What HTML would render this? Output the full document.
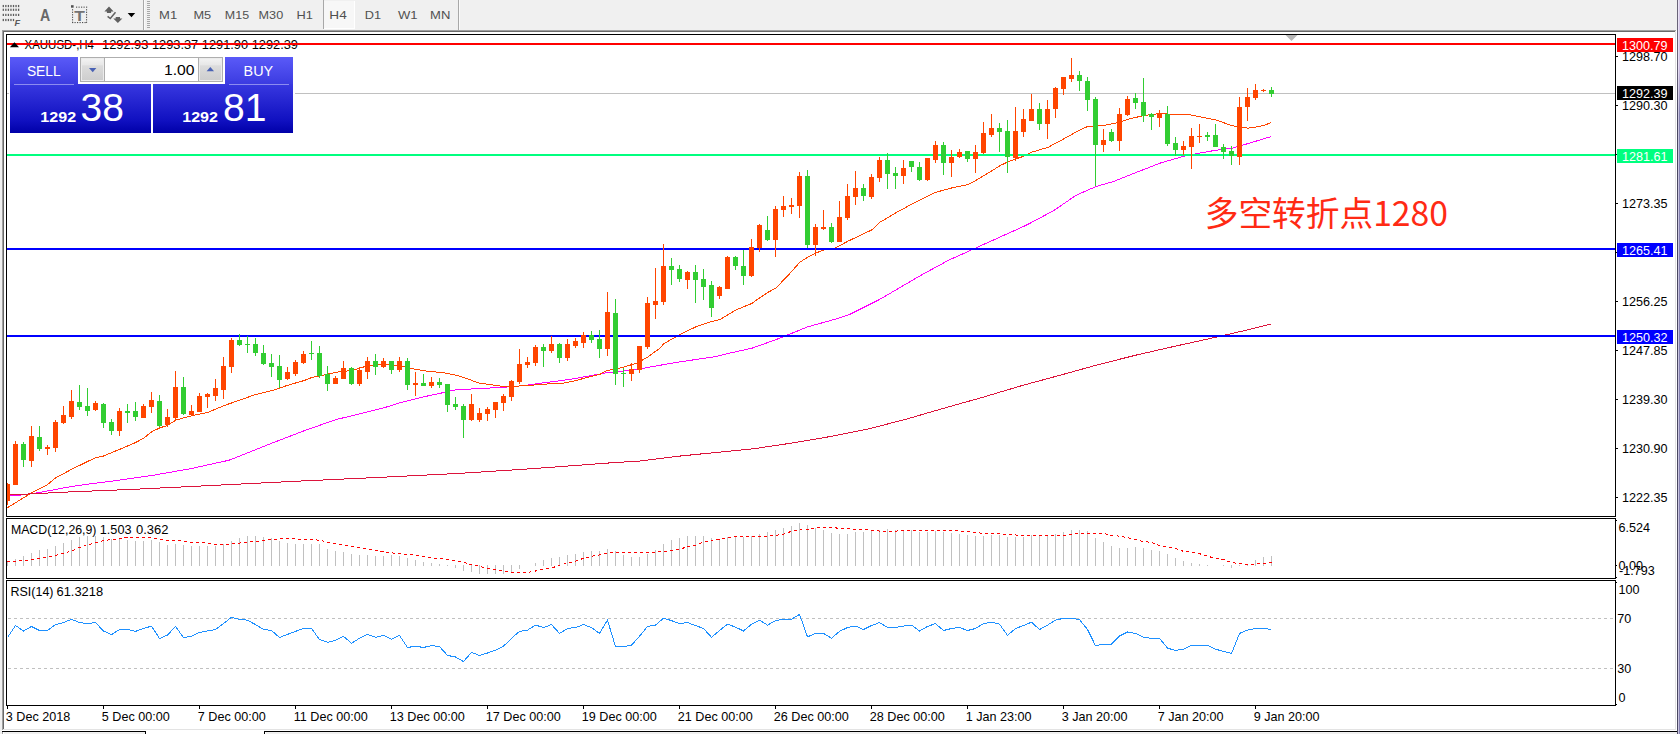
<!DOCTYPE html>
<html lang="zh"><head><meta charset="utf-8"><title>XAUUSD H4</title>
<style>
html,body{margin:0;padding:0;background:#f0f0f0;}
body{width:1680px;height:734px;overflow:hidden;position:relative;}
svg{position:absolute;left:0;top:0;display:block;}
text{font-family:"Liberation Sans","Noto Sans CJK SC",sans-serif;}
.ax{font-size:12.6px;fill:#000;}
.tf{font-size:11.4px;fill:#505050;}
.cj{font-family:"Noto Sans CJK SC","Liberation Sans",sans-serif;}
</style></head><body>
<svg width="1680" height="734" viewBox="0 0 1680 734">
<defs>
<linearGradient id="gb1" x1="0" y1="0" x2="0" y2="1"><stop offset="0" stop-color="#5a5af8"/><stop offset="1" stop-color="#3a3ae0"/></linearGradient>
<linearGradient id="gb2" x1="0" y1="0" x2="0" y2="1"><stop offset="0" stop-color="#3838e0"/><stop offset="0.75" stop-color="#1010c0"/><stop offset="1" stop-color="#0000a8"/></linearGradient>
<linearGradient id="gsp" x1="0" y1="0" x2="0" y2="1"><stop offset="0" stop-color="#f2f2f2"/><stop offset="0.27" stop-color="#e8e8e8"/><stop offset="0.33" stop-color="#dcdcdc"/><stop offset="1" stop-color="#cecece"/></linearGradient>
<linearGradient id="gv1" gradientUnits="userSpaceOnUse" x1="0" y1="0" x2="0" y2="734"><stop offset="0" stop-color="#ece6f8"/><stop offset="0.09" stop-color="#e6def4"/><stop offset="0.155" stop-color="#c8c4e0"/><stop offset="1" stop-color="#c8c4e0"/></linearGradient>
<linearGradient id="gv2" gradientUnits="userSpaceOnUse" x1="0" y1="0" x2="0" y2="734"><stop offset="0" stop-color="#d8cae8"/><stop offset="0.09" stop-color="#d0c0e4"/><stop offset="0.155" stop-color="#8682b2"/><stop offset="1" stop-color="#8682b2"/></linearGradient>
<linearGradient id="gv0" gradientUnits="userSpaceOnUse" x1="0" y1="0" x2="0" y2="734"><stop offset="0" stop-color="#6a6478"/><stop offset="0.09" stop-color="#666076"/><stop offset="0.155" stop-color="#4a4860"/><stop offset="1" stop-color="#4a4860"/></linearGradient>
</defs>
<g shape-rendering="crispEdges">
<rect x="0" y="0" width="1680" height="734" fill="#f0f0f0"/>
<rect x="2" y="30" width="1675" height="701" fill="#a0a0a0"/>
<rect x="3" y="31" width="1674" height="700" fill="#696969"/>
<rect x="4" y="32" width="1673" height="699" fill="#ffffff"/>
<rect x="4" y="729" width="1672" height="1" fill="#e3e3e3"/>
<rect x="1675" y="31" width="1" height="699" fill="#e3e3e3"/>
<rect x="1676" y="30" width="1" height="701" fill="#ffffff"/>
<rect x="2" y="730" width="1675" height="1" fill="#ffffff"/>
<rect x="3" y="729" width="1" height="1" fill="#e3e3e3"/>
<rect x="1677" y="0" width="1" height="734" fill="url(#gv0)"/>
<rect x="1678" y="0" width="1" height="734" fill="url(#gv1)"/>
<rect x="1679" y="0" width="1" height="734" fill="url(#gv2)"/>
<rect x="0" y="731" width="1677" height="3" fill="#f0f0f0"/>
<rect x="2" y="731" width="144" height="1" fill="#000"/>
<rect x="145" y="731" width="1" height="3" fill="#000"/>
<rect x="146" y="731" width="118" height="3" fill="#fff"/>
<rect x="264" y="731" width="1" height="3" fill="#000"/>
<rect x="264" y="731" width="1413" height="1" fill="#000"/>
<rect x="2" y="732" width="1" height="2" fill="#a0a0a0"/>
<rect x="3" y="732" width="1" height="2" fill="#fff"/>
<rect x="265" y="732" width="1" height="2" fill="#fff"/>
<rect x="143" y="0" width="1" height="30" fill="#a8a8a8"/>
<rect x="144" y="0" width="1" height="30" fill="#fafafa"/>
<rect x="147" y="1" width="3" height="1" fill="#a8a8a8"/>
<rect x="147" y="3" width="3" height="1" fill="#a8a8a8"/>
<rect x="147" y="5" width="3" height="1" fill="#a8a8a8"/>
<rect x="147" y="7" width="3" height="1" fill="#a8a8a8"/>
<rect x="147" y="9" width="3" height="1" fill="#a8a8a8"/>
<rect x="147" y="11" width="3" height="1" fill="#a8a8a8"/>
<rect x="147" y="13" width="3" height="1" fill="#a8a8a8"/>
<rect x="147" y="15" width="3" height="1" fill="#a8a8a8"/>
<rect x="147" y="17" width="3" height="1" fill="#a8a8a8"/>
<rect x="147" y="19" width="3" height="1" fill="#a8a8a8"/>
<rect x="147" y="21" width="3" height="1" fill="#a8a8a8"/>
<rect x="147" y="23" width="3" height="1" fill="#a8a8a8"/>
<rect x="147" y="25" width="3" height="1" fill="#a8a8a8"/>
<rect x="147" y="27" width="3" height="1" fill="#a8a8a8"/>
<rect x="323" y="0" width="1" height="29" fill="#a8a8a8"/>
<rect x="324" y="1" width="30" height="28" fill="#f7f7f7"/>
<rect x="354" y="1" width="1" height="28" fill="#ffffff"/>
<rect x="324" y="28" width="31" height="1" fill="#ffffff"/>
<rect x="458" y="0" width="1" height="30" fill="#a8a8a8"/>
<rect x="459" y="0" width="1" height="30" fill="#fafafa"/>
</g>
<g shape-rendering="crispEdges" stroke-linejoin="round">
<polyline points="7.5,495.9 19.5,495.2 27.5,494.2 38.5,492.6 63.5,488 76.5,485.7 95.5,483.2 114.5,480.8 127.5,479 152.5,475.4 170.5,472.2 191,468.6 229.1,460.2 267.2,445 305.3,430.3 336,419.6 352,415.7 367.9,411.7 384,407.8 400.1,402.8 415.9,398.7 431.8,395 447.9,391.7 452,390.2 464,389.4 479.9,388.5 495.9,387.7 511.9,386.7 527.9,385.1 543.9,382.7 559.9,380.8 575.9,378.4 592.1,375.4 608,372.5 624,370.9 640,369.2 650.5,366.9 678.5,362.1 716.7,356.4 722,354.9 752,348.2 776.1,339.6 792.1,333.2 808.1,326.7 838.6,318.3 850.5,314 878.6,300 890.7,293 920.7,275.4 948.3,260.4 975.9,247.9 1001,236.6 1026.1,225.3 1053.6,210.7 1076.2,195.2 1096.3,186.4 1113.8,181.4 1136.4,172.4 1161.5,162.6 1184.3,156.2 1200.1,153 1216.1,150.2 1232.2,148.2 1248.2,143.5 1264.2,138.7 1270.9,136.6" fill="none" stroke="#ff00ff" stroke-width="1" />
<polyline points="6.5,508.3 7.5,507.6 31.5,493 47.5,484.6 55.5,478 71.5,469.4 87.5,461.5 95.5,457.8 103.5,456 119.5,449.4 135.5,442.6 143.5,438.3 151.5,431.9 159.5,428 167.5,425.4 176,420 192,415.7 207.9,412.4 224,405.6 240.1,400 255.9,394.4 271.8,390.7 287.9,385.2 304,380.6 312,377.4 320.5,375.9 336,372.2 352,370.4 367.9,365.7 384,364.3 400.1,365.8 410.9,368.4 428.7,371.4 443.4,372.7 458.1,375.7 469.1,379.4 478.9,383.1 492.4,384.9 500.5,386.1 514.1,386.3 531.8,385.2 546.8,384 563.2,383.1 574.1,381.1 586.3,377.7 600,374.3 606.8,370.6 613.6,369.5 623.8,367.1 636.7,363.1 647.6,357.2 660.5,347.7 664,343.5 680.1,334.5 696.1,326.7 711.9,321.5 719.9,319.5 736,309.9 752,303.4 756.5,300 768.1,292.3 776,287.9 788,275.5 800,262.1 808.1,256.9 816.1,252.9 824.1,250 835.7,247.8 848.1,241.1 864.2,233.5 872.2,229.7 880.2,222 883.9,220 896.1,212.6 912.1,204 928.1,195.8 936.1,192.2 952.2,187.8 968.2,184.6 976.2,180.2 992.3,170.6 1000.3,165.5 1008.3,161.7 1016.3,158.8 1024.3,156 1032.3,152 1048.1,147.3 1064.1,138.7 1080.1,129.8 1088.1,126.3 1104.2,125.4 1120.2,122.1 1128.2,119.1 1144.2,115.5 1160.3,113.5 1170.5,114.3 1186.8,114.3 1200.1,116.8 1216.1,120 1232.2,125.7 1240.2,126.9 1248.2,128.2 1256.2,126.9 1264.2,125.3 1270.9,122.7" fill="none" stroke="#ff4500" stroke-width="1" />
<polyline points="7.5,495 18.5,494.5 38.5,493.5 76.5,491.6 127.5,489.6 152.5,488.4 229.1,484.6 305.3,480.8 381.5,477.3 457.5,473.5 533.5,468.6 610,462.9 640.5,461 678.6,456.2 716.7,452.4 754.8,448.6 792.9,442.9 831,436.4 869.1,428.8 907.2,418.9 945.3,407.8 983.4,397.1 1021.5,385.7 1059.5,375.4 1097.6,364.8 1135.7,355.2 1173.8,346.5 1211.9,338.1 1250,329.3 1270.9,324" fill="none" stroke="#dc143c" stroke-width="1" />
</g>
<text x="24.5" y="49" class="ax" textLength="69.5" lengthAdjust="spacingAndGlyphs">XAUUSD-,H4</text>
<text x="102" y="49" class="ax" textLength="196" lengthAdjust="spacingAndGlyphs">1292.93 1293.37 1291.90 1292.39</text>
<g shape-rendering="crispEdges">
<rect x="7" y="43" width="1608" height="2" fill="#ff0000"/>
<rect x="7" y="93" width="1608" height="1" fill="#c0c0c0"/>
<rect x="7" y="154" width="1608" height="2" fill="#00ff7f"/>
<rect x="7" y="248" width="1608" height="2" fill="#0000ff"/>
<rect x="7" y="335" width="1608" height="2" fill="#0000ff"/>
<rect x="7" y="483" width="1" height="22" fill="#ff4500"/>
<rect x="7" y="484" width="3" height="17" fill="#ff4500"/>
<rect x="15" y="441" width="1" height="44" fill="#ff4500"/>
<rect x="13" y="444" width="5" height="41" fill="#ff4500"/>
<rect x="23" y="442" width="1" height="25" fill="#32cd32"/>
<rect x="21" y="444" width="5" height="16" fill="#32cd32"/>
<rect x="31" y="426" width="1" height="41" fill="#ff4500"/>
<rect x="29" y="436" width="5" height="25" fill="#ff4500"/>
<rect x="39" y="426" width="1" height="25" fill="#32cd32"/>
<rect x="37" y="437" width="5" height="12" fill="#32cd32"/>
<rect x="47" y="445" width="1" height="10" fill="#ff4500"/>
<rect x="45" y="447" width="5" height="2" fill="#ff4500"/>
<rect x="55" y="420" width="1" height="32" fill="#ff4500"/>
<rect x="53" y="422" width="5" height="26" fill="#ff4500"/>
<rect x="63" y="406" width="1" height="18" fill="#ff4500"/>
<rect x="61" y="415" width="5" height="8" fill="#ff4500"/>
<rect x="71" y="390" width="1" height="29" fill="#ff4500"/>
<rect x="69" y="401" width="5" height="16" fill="#ff4500"/>
<rect x="79" y="385" width="1" height="25" fill="#32cd32"/>
<rect x="77" y="402" width="5" height="5" fill="#32cd32"/>
<rect x="87" y="388" width="1" height="28" fill="#32cd32"/>
<rect x="85" y="406" width="5" height="5" fill="#32cd32"/>
<rect x="95" y="401" width="1" height="10" fill="#ff4500"/>
<rect x="93" y="403" width="5" height="7" fill="#ff4500"/>
<rect x="103" y="403" width="1" height="25" fill="#32cd32"/>
<rect x="101" y="404" width="5" height="19" fill="#32cd32"/>
<rect x="111" y="419" width="1" height="16" fill="#32cd32"/>
<rect x="109" y="422" width="5" height="9" fill="#32cd32"/>
<rect x="119" y="408" width="1" height="28" fill="#ff4500"/>
<rect x="117" y="411" width="5" height="20" fill="#ff4500"/>
<rect x="127" y="404" width="1" height="19" fill="#32cd32"/>
<rect x="125" y="411" width="5" height="2" fill="#32cd32"/>
<rect x="135" y="402" width="1" height="19" fill="#32cd32"/>
<rect x="133" y="411" width="5" height="6" fill="#32cd32"/>
<rect x="143" y="404" width="1" height="14" fill="#ff4500"/>
<rect x="141" y="406" width="5" height="12" fill="#ff4500"/>
<rect x="151" y="392" width="1" height="21" fill="#ff4500"/>
<rect x="149" y="400" width="5" height="7" fill="#ff4500"/>
<rect x="159" y="395" width="1" height="32" fill="#32cd32"/>
<rect x="157" y="401" width="5" height="25" fill="#32cd32"/>
<rect x="167" y="409" width="1" height="18" fill="#ff4500"/>
<rect x="165" y="417" width="5" height="8" fill="#ff4500"/>
<rect x="175" y="371" width="1" height="50" fill="#ff4500"/>
<rect x="173" y="387" width="5" height="31" fill="#ff4500"/>
<rect x="183" y="377" width="1" height="38" fill="#32cd32"/>
<rect x="181" y="387" width="5" height="27" fill="#32cd32"/>
<rect x="191" y="405" width="1" height="11" fill="#ff4500"/>
<rect x="189" y="411" width="5" height="4" fill="#ff4500"/>
<rect x="199" y="393" width="1" height="19" fill="#ff4500"/>
<rect x="197" y="396" width="5" height="16" fill="#ff4500"/>
<rect x="207" y="393" width="1" height="15" fill="#ff4500"/>
<rect x="205" y="394" width="5" height="3" fill="#ff4500"/>
<rect x="215" y="379" width="1" height="22" fill="#ff4500"/>
<rect x="213" y="388" width="5" height="8" fill="#ff4500"/>
<rect x="223" y="357" width="1" height="42" fill="#ff4500"/>
<rect x="221" y="366" width="5" height="24" fill="#ff4500"/>
<rect x="231" y="338" width="1" height="35" fill="#ff4500"/>
<rect x="229" y="340" width="5" height="27" fill="#ff4500"/>
<rect x="239" y="334" width="1" height="12" fill="#32cd32"/>
<rect x="237" y="340" width="5" height="5" fill="#32cd32"/>
<rect x="247" y="336" width="1" height="17" fill="#32cd32"/>
<rect x="245" y="344" width="5" height="1" fill="#32cd32"/>
<rect x="255" y="338" width="1" height="18" fill="#32cd32"/>
<rect x="253" y="344" width="5" height="9" fill="#32cd32"/>
<rect x="263" y="345" width="1" height="20" fill="#32cd32"/>
<rect x="261" y="353" width="5" height="11" fill="#32cd32"/>
<rect x="271" y="354" width="1" height="23" fill="#32cd32"/>
<rect x="269" y="363" width="5" height="4" fill="#32cd32"/>
<rect x="279" y="355" width="1" height="33" fill="#32cd32"/>
<rect x="277" y="366" width="5" height="14" fill="#32cd32"/>
<rect x="287" y="367" width="1" height="13" fill="#ff4500"/>
<rect x="285" y="372" width="5" height="7" fill="#ff4500"/>
<rect x="295" y="360" width="1" height="16" fill="#ff4500"/>
<rect x="293" y="362" width="5" height="12" fill="#ff4500"/>
<rect x="303" y="351" width="1" height="13" fill="#ff4500"/>
<rect x="301" y="354" width="5" height="9" fill="#ff4500"/>
<rect x="311" y="341" width="1" height="19" fill="#32cd32"/>
<rect x="309" y="353" width="5" height="1" fill="#32cd32"/>
<rect x="319" y="346" width="1" height="32" fill="#32cd32"/>
<rect x="317" y="353" width="5" height="23" fill="#32cd32"/>
<rect x="327" y="366" width="1" height="25" fill="#32cd32"/>
<rect x="325" y="374" width="5" height="10" fill="#32cd32"/>
<rect x="335" y="376" width="1" height="8" fill="#ff4500"/>
<rect x="333" y="378" width="5" height="6" fill="#ff4500"/>
<rect x="343" y="361" width="1" height="18" fill="#ff4500"/>
<rect x="341" y="368" width="5" height="11" fill="#ff4500"/>
<rect x="351" y="367" width="1" height="18" fill="#32cd32"/>
<rect x="349" y="368" width="5" height="16" fill="#32cd32"/>
<rect x="359" y="367" width="1" height="19" fill="#ff4500"/>
<rect x="357" y="370" width="5" height="14" fill="#ff4500"/>
<rect x="367" y="357" width="1" height="22" fill="#ff4500"/>
<rect x="365" y="361" width="5" height="11" fill="#ff4500"/>
<rect x="375" y="354" width="1" height="21" fill="#32cd32"/>
<rect x="373" y="361" width="5" height="6" fill="#32cd32"/>
<rect x="383" y="358" width="1" height="10" fill="#ff4500"/>
<rect x="381" y="361" width="5" height="6" fill="#ff4500"/>
<rect x="391" y="361" width="1" height="13" fill="#32cd32"/>
<rect x="389" y="361" width="5" height="9" fill="#32cd32"/>
<rect x="399" y="357" width="1" height="15" fill="#ff4500"/>
<rect x="397" y="361" width="5" height="9" fill="#ff4500"/>
<rect x="407" y="358" width="1" height="32" fill="#32cd32"/>
<rect x="405" y="361" width="5" height="24" fill="#32cd32"/>
<rect x="415" y="372" width="1" height="24" fill="#ff4500"/>
<rect x="413" y="383" width="5" height="2" fill="#ff4500"/>
<rect x="423" y="374" width="1" height="12" fill="#32cd32"/>
<rect x="421" y="383" width="5" height="3" fill="#32cd32"/>
<rect x="431" y="377" width="1" height="11" fill="#ff4500"/>
<rect x="429" y="382" width="5" height="4" fill="#ff4500"/>
<rect x="439" y="378" width="1" height="10" fill="#32cd32"/>
<rect x="437" y="382" width="5" height="3" fill="#32cd32"/>
<rect x="447" y="384" width="1" height="28" fill="#32cd32"/>
<rect x="445" y="384" width="5" height="21" fill="#32cd32"/>
<rect x="455" y="397" width="1" height="13" fill="#32cd32"/>
<rect x="453" y="404" width="5" height="3" fill="#32cd32"/>
<rect x="463" y="404" width="1" height="34" fill="#32cd32"/>
<rect x="461" y="406" width="5" height="14" fill="#32cd32"/>
<rect x="471" y="394" width="1" height="27" fill="#ff4500"/>
<rect x="469" y="404" width="5" height="16" fill="#ff4500"/>
<rect x="479" y="408" width="1" height="14" fill="#ff4500"/>
<rect x="477" y="413" width="5" height="7" fill="#ff4500"/>
<rect x="487" y="407" width="1" height="14" fill="#ff4500"/>
<rect x="485" y="409" width="5" height="5" fill="#ff4500"/>
<rect x="495" y="402" width="1" height="16" fill="#ff4500"/>
<rect x="493" y="402" width="5" height="8" fill="#ff4500"/>
<rect x="503" y="394" width="1" height="17" fill="#ff4500"/>
<rect x="501" y="396" width="5" height="7" fill="#ff4500"/>
<rect x="511" y="380" width="1" height="21" fill="#ff4500"/>
<rect x="509" y="381" width="5" height="16" fill="#ff4500"/>
<rect x="519" y="349" width="1" height="35" fill="#ff4500"/>
<rect x="517" y="364" width="5" height="18" fill="#ff4500"/>
<rect x="527" y="357" width="1" height="11" fill="#ff4500"/>
<rect x="525" y="362" width="5" height="3" fill="#ff4500"/>
<rect x="535" y="345" width="1" height="21" fill="#ff4500"/>
<rect x="533" y="347" width="5" height="16" fill="#ff4500"/>
<rect x="543" y="344" width="1" height="23" fill="#32cd32"/>
<rect x="541" y="347" width="5" height="4" fill="#32cd32"/>
<rect x="551" y="336" width="1" height="17" fill="#ff4500"/>
<rect x="549" y="344" width="5" height="7" fill="#ff4500"/>
<rect x="559" y="343" width="1" height="20" fill="#32cd32"/>
<rect x="557" y="344" width="5" height="14" fill="#32cd32"/>
<rect x="567" y="339" width="1" height="22" fill="#ff4500"/>
<rect x="565" y="344" width="5" height="14" fill="#ff4500"/>
<rect x="575" y="338" width="1" height="10" fill="#ff4500"/>
<rect x="573" y="341" width="5" height="5" fill="#ff4500"/>
<rect x="583" y="332" width="1" height="16" fill="#ff4500"/>
<rect x="581" y="335" width="5" height="8" fill="#ff4500"/>
<rect x="591" y="331" width="1" height="12" fill="#32cd32"/>
<rect x="589" y="335" width="5" height="5" fill="#32cd32"/>
<rect x="599" y="330" width="1" height="28" fill="#32cd32"/>
<rect x="597" y="339" width="5" height="10" fill="#32cd32"/>
<rect x="607" y="292" width="1" height="64" fill="#ff4500"/>
<rect x="605" y="312" width="5" height="37" fill="#ff4500"/>
<rect x="615" y="299" width="1" height="86" fill="#32cd32"/>
<rect x="613" y="313" width="5" height="61" fill="#32cd32"/>
<rect x="623" y="368" width="1" height="19" fill="#32cd32"/>
<rect x="621" y="373" width="5" height="1" fill="#32cd32"/>
<rect x="631" y="363" width="1" height="18" fill="#ff4500"/>
<rect x="629" y="369" width="5" height="5" fill="#ff4500"/>
<rect x="639" y="346" width="1" height="27" fill="#ff4500"/>
<rect x="637" y="346" width="5" height="24" fill="#ff4500"/>
<rect x="647" y="297" width="1" height="52" fill="#ff4500"/>
<rect x="645" y="303" width="5" height="44" fill="#ff4500"/>
<rect x="655" y="268" width="1" height="51" fill="#ff4500"/>
<rect x="653" y="301" width="5" height="4" fill="#ff4500"/>
<rect x="663" y="244" width="1" height="61" fill="#ff4500"/>
<rect x="661" y="266" width="5" height="36" fill="#ff4500"/>
<rect x="671" y="258" width="1" height="27" fill="#32cd32"/>
<rect x="669" y="266" width="5" height="4" fill="#32cd32"/>
<rect x="679" y="265" width="1" height="17" fill="#32cd32"/>
<rect x="677" y="269" width="5" height="10" fill="#32cd32"/>
<rect x="687" y="271" width="1" height="18" fill="#ff4500"/>
<rect x="685" y="272" width="5" height="8" fill="#ff4500"/>
<rect x="695" y="265" width="1" height="38" fill="#32cd32"/>
<rect x="693" y="272" width="5" height="8" fill="#32cd32"/>
<rect x="703" y="269" width="1" height="31" fill="#32cd32"/>
<rect x="701" y="279" width="5" height="8" fill="#32cd32"/>
<rect x="711" y="281" width="1" height="36" fill="#32cd32"/>
<rect x="709" y="285" width="5" height="23" fill="#32cd32"/>
<rect x="719" y="286" width="1" height="13" fill="#ff4500"/>
<rect x="717" y="287" width="5" height="9" fill="#ff4500"/>
<rect x="727" y="256" width="1" height="33" fill="#ff4500"/>
<rect x="725" y="257" width="5" height="32" fill="#ff4500"/>
<rect x="735" y="256" width="1" height="14" fill="#32cd32"/>
<rect x="733" y="257" width="5" height="9" fill="#32cd32"/>
<rect x="743" y="250" width="1" height="35" fill="#32cd32"/>
<rect x="741" y="266" width="5" height="10" fill="#32cd32"/>
<rect x="751" y="239" width="1" height="38" fill="#ff4500"/>
<rect x="749" y="247" width="5" height="29" fill="#ff4500"/>
<rect x="759" y="224" width="1" height="28" fill="#ff4500"/>
<rect x="757" y="225" width="5" height="23" fill="#ff4500"/>
<rect x="767" y="216" width="1" height="25" fill="#32cd32"/>
<rect x="765" y="230" width="5" height="10" fill="#32cd32"/>
<rect x="775" y="206" width="1" height="51" fill="#ff4500"/>
<rect x="773" y="209" width="5" height="31" fill="#ff4500"/>
<rect x="783" y="196" width="1" height="21" fill="#ff4500"/>
<rect x="781" y="206" width="5" height="4" fill="#ff4500"/>
<rect x="791" y="198" width="1" height="16" fill="#ff4500"/>
<rect x="789" y="205" width="5" height="2" fill="#ff4500"/>
<rect x="799" y="172" width="1" height="46" fill="#ff4500"/>
<rect x="797" y="176" width="5" height="30" fill="#ff4500"/>
<rect x="807" y="170" width="1" height="78" fill="#32cd32"/>
<rect x="805" y="176" width="5" height="69" fill="#32cd32"/>
<rect x="815" y="224" width="1" height="32" fill="#ff4500"/>
<rect x="813" y="227" width="5" height="18" fill="#ff4500"/>
<rect x="823" y="210" width="1" height="20" fill="#ff4500"/>
<rect x="821" y="227" width="5" height="2" fill="#ff4500"/>
<rect x="831" y="223" width="1" height="20" fill="#32cd32"/>
<rect x="829" y="227" width="5" height="15" fill="#32cd32"/>
<rect x="839" y="201" width="1" height="41" fill="#ff4500"/>
<rect x="837" y="217" width="5" height="25" fill="#ff4500"/>
<rect x="847" y="184" width="1" height="36" fill="#ff4500"/>
<rect x="845" y="196" width="5" height="22" fill="#ff4500"/>
<rect x="855" y="171" width="1" height="34" fill="#ff4500"/>
<rect x="853" y="188" width="5" height="9" fill="#ff4500"/>
<rect x="863" y="184" width="1" height="17" fill="#32cd32"/>
<rect x="861" y="188" width="5" height="8" fill="#32cd32"/>
<rect x="871" y="174" width="1" height="25" fill="#ff4500"/>
<rect x="869" y="177" width="5" height="20" fill="#ff4500"/>
<rect x="879" y="157" width="1" height="25" fill="#ff4500"/>
<rect x="877" y="160" width="5" height="18" fill="#ff4500"/>
<rect x="887" y="153" width="1" height="36" fill="#32cd32"/>
<rect x="885" y="160" width="5" height="14" fill="#32cd32"/>
<rect x="895" y="167" width="1" height="22" fill="#32cd32"/>
<rect x="893" y="173" width="5" height="3" fill="#32cd32"/>
<rect x="903" y="160" width="1" height="24" fill="#ff4500"/>
<rect x="901" y="168" width="5" height="8" fill="#ff4500"/>
<rect x="911" y="161" width="1" height="11" fill="#32cd32"/>
<rect x="909" y="161" width="5" height="6" fill="#32cd32"/>
<rect x="919" y="162" width="1" height="19" fill="#32cd32"/>
<rect x="917" y="167" width="5" height="13" fill="#32cd32"/>
<rect x="927" y="158" width="1" height="23" fill="#ff4500"/>
<rect x="925" y="158" width="5" height="22" fill="#ff4500"/>
<rect x="935" y="141" width="1" height="22" fill="#ff4500"/>
<rect x="933" y="145" width="5" height="15" fill="#ff4500"/>
<rect x="943" y="142" width="1" height="33" fill="#32cd32"/>
<rect x="941" y="145" width="5" height="18" fill="#32cd32"/>
<rect x="951" y="150" width="1" height="27" fill="#ff4500"/>
<rect x="949" y="157" width="5" height="6" fill="#ff4500"/>
<rect x="959" y="149" width="1" height="9" fill="#ff4500"/>
<rect x="957" y="152" width="5" height="5" fill="#ff4500"/>
<rect x="967" y="151" width="1" height="11" fill="#32cd32"/>
<rect x="965" y="151" width="5" height="8" fill="#32cd32"/>
<rect x="975" y="145" width="1" height="28" fill="#ff4500"/>
<rect x="973" y="152" width="5" height="7" fill="#ff4500"/>
<rect x="983" y="122" width="1" height="32" fill="#ff4500"/>
<rect x="981" y="133" width="5" height="20" fill="#ff4500"/>
<rect x="991" y="114" width="1" height="23" fill="#ff4500"/>
<rect x="989" y="128" width="5" height="7" fill="#ff4500"/>
<rect x="999" y="123" width="1" height="29" fill="#32cd32"/>
<rect x="997" y="128" width="5" height="4" fill="#32cd32"/>
<rect x="1007" y="120" width="1" height="53" fill="#32cd32"/>
<rect x="1005" y="131" width="5" height="26" fill="#32cd32"/>
<rect x="1015" y="107" width="1" height="54" fill="#ff4500"/>
<rect x="1013" y="131" width="5" height="27" fill="#ff4500"/>
<rect x="1023" y="109" width="1" height="28" fill="#ff4500"/>
<rect x="1021" y="119" width="5" height="13" fill="#ff4500"/>
<rect x="1031" y="94" width="1" height="27" fill="#ff4500"/>
<rect x="1029" y="109" width="5" height="12" fill="#ff4500"/>
<rect x="1039" y="103" width="1" height="27" fill="#32cd32"/>
<rect x="1037" y="109" width="5" height="15" fill="#32cd32"/>
<rect x="1047" y="100" width="1" height="39" fill="#ff4500"/>
<rect x="1045" y="109" width="5" height="15" fill="#ff4500"/>
<rect x="1055" y="87" width="1" height="31" fill="#ff4500"/>
<rect x="1053" y="88" width="5" height="21" fill="#ff4500"/>
<rect x="1063" y="77" width="1" height="18" fill="#ff4500"/>
<rect x="1061" y="77" width="5" height="12" fill="#ff4500"/>
<rect x="1071" y="58" width="1" height="24" fill="#ff4500"/>
<rect x="1069" y="75" width="5" height="4" fill="#ff4500"/>
<rect x="1079" y="71" width="1" height="20" fill="#32cd32"/>
<rect x="1077" y="75" width="5" height="6" fill="#32cd32"/>
<rect x="1087" y="77" width="1" height="34" fill="#32cd32"/>
<rect x="1085" y="81" width="5" height="19" fill="#32cd32"/>
<rect x="1095" y="97" width="1" height="89" fill="#32cd32"/>
<rect x="1093" y="99" width="5" height="46" fill="#32cd32"/>
<rect x="1103" y="129" width="1" height="23" fill="#ff4500"/>
<rect x="1101" y="140" width="5" height="5" fill="#ff4500"/>
<rect x="1111" y="129" width="1" height="13" fill="#32cd32"/>
<rect x="1109" y="132" width="5" height="9" fill="#32cd32"/>
<rect x="1119" y="108" width="1" height="43" fill="#ff4500"/>
<rect x="1117" y="114" width="5" height="27" fill="#ff4500"/>
<rect x="1127" y="96" width="1" height="20" fill="#ff4500"/>
<rect x="1125" y="99" width="5" height="16" fill="#ff4500"/>
<rect x="1135" y="93" width="1" height="16" fill="#32cd32"/>
<rect x="1133" y="98" width="5" height="5" fill="#32cd32"/>
<rect x="1143" y="78" width="1" height="44" fill="#32cd32"/>
<rect x="1141" y="102" width="5" height="14" fill="#32cd32"/>
<rect x="1151" y="113" width="1" height="17" fill="#32cd32"/>
<rect x="1149" y="114" width="5" height="3" fill="#32cd32"/>
<rect x="1159" y="110" width="1" height="17" fill="#ff4500"/>
<rect x="1157" y="113" width="5" height="5" fill="#ff4500"/>
<rect x="1167" y="106" width="1" height="40" fill="#32cd32"/>
<rect x="1165" y="114" width="5" height="30" fill="#32cd32"/>
<rect x="1175" y="137" width="1" height="19" fill="#32cd32"/>
<rect x="1173" y="143" width="5" height="7" fill="#32cd32"/>
<rect x="1183" y="141" width="1" height="14" fill="#ff4500"/>
<rect x="1181" y="146" width="5" height="4" fill="#ff4500"/>
<rect x="1191" y="128" width="1" height="41" fill="#ff4500"/>
<rect x="1189" y="136" width="5" height="11" fill="#ff4500"/>
<rect x="1199" y="124" width="1" height="19" fill="#ff4500"/>
<rect x="1197" y="136" width="5" height="1" fill="#ff4500"/>
<rect x="1207" y="132" width="1" height="9" fill="#32cd32"/>
<rect x="1205" y="135" width="5" height="2" fill="#32cd32"/>
<rect x="1215" y="124" width="1" height="23" fill="#32cd32"/>
<rect x="1213" y="135" width="5" height="12" fill="#32cd32"/>
<rect x="1223" y="144" width="1" height="15" fill="#32cd32"/>
<rect x="1221" y="147" width="5" height="5" fill="#32cd32"/>
<rect x="1231" y="146" width="1" height="19" fill="#32cd32"/>
<rect x="1229" y="151" width="5" height="5" fill="#32cd32"/>
<rect x="1239" y="97" width="1" height="68" fill="#ff4500"/>
<rect x="1237" y="107" width="5" height="50" fill="#ff4500"/>
<rect x="1247" y="88" width="1" height="33" fill="#ff4500"/>
<rect x="1245" y="97" width="5" height="10" fill="#ff4500"/>
<rect x="1255" y="84" width="1" height="16" fill="#ff4500"/>
<rect x="1253" y="90" width="5" height="8" fill="#ff4500"/>
<rect x="1263" y="89" width="1" height="3" fill="#ff4500"/>
<rect x="1261" y="90" width="5" height="1" fill="#ff4500"/>
<rect x="1271" y="87" width="1" height="10" fill="#32cd32"/>
<rect x="1269" y="90" width="5" height="4" fill="#32cd32"/>
</g>
<g shape-rendering="crispEdges">
<rect x="7" y="562" width="1" height="4" fill="#c0c0c0"/>
<rect x="15" y="559" width="1" height="7" fill="#c0c0c0"/>
<rect x="23" y="556" width="1" height="10" fill="#c0c0c0"/>
<rect x="31" y="553" width="1" height="13" fill="#c0c0c0"/>
<rect x="39" y="550" width="1" height="16" fill="#c0c0c0"/>
<rect x="47" y="549" width="1" height="17" fill="#c0c0c0"/>
<rect x="55" y="546" width="1" height="20" fill="#c0c0c0"/>
<rect x="63" y="543" width="1" height="23" fill="#c0c0c0"/>
<rect x="71" y="540" width="1" height="26" fill="#c0c0c0"/>
<rect x="79" y="537" width="1" height="29" fill="#c0c0c0"/>
<rect x="87" y="536" width="1" height="30" fill="#c0c0c0"/>
<rect x="95" y="536" width="1" height="30" fill="#c0c0c0"/>
<rect x="103" y="537" width="1" height="29" fill="#c0c0c0"/>
<rect x="111" y="539" width="1" height="27" fill="#c0c0c0"/>
<rect x="119" y="539" width="1" height="27" fill="#c0c0c0"/>
<rect x="127" y="540" width="1" height="26" fill="#c0c0c0"/>
<rect x="135" y="541" width="1" height="25" fill="#c0c0c0"/>
<rect x="143" y="541" width="1" height="25" fill="#c0c0c0"/>
<rect x="151" y="540" width="1" height="26" fill="#c0c0c0"/>
<rect x="159" y="542" width="1" height="24" fill="#c0c0c0"/>
<rect x="167" y="545" width="1" height="21" fill="#c0c0c0"/>
<rect x="175" y="544" width="1" height="22" fill="#c0c0c0"/>
<rect x="183" y="545" width="1" height="21" fill="#c0c0c0"/>
<rect x="191" y="546" width="1" height="20" fill="#c0c0c0"/>
<rect x="199" y="546" width="1" height="20" fill="#c0c0c0"/>
<rect x="207" y="546" width="1" height="20" fill="#c0c0c0"/>
<rect x="215" y="546" width="1" height="20" fill="#c0c0c0"/>
<rect x="223" y="544" width="1" height="22" fill="#c0c0c0"/>
<rect x="231" y="541" width="1" height="25" fill="#c0c0c0"/>
<rect x="239" y="538" width="1" height="28" fill="#c0c0c0"/>
<rect x="247" y="536" width="1" height="30" fill="#c0c0c0"/>
<rect x="255" y="536" width="1" height="30" fill="#c0c0c0"/>
<rect x="263" y="537" width="1" height="29" fill="#c0c0c0"/>
<rect x="271" y="538" width="1" height="28" fill="#c0c0c0"/>
<rect x="279" y="541" width="1" height="25" fill="#c0c0c0"/>
<rect x="287" y="543" width="1" height="23" fill="#c0c0c0"/>
<rect x="295" y="544" width="1" height="22" fill="#c0c0c0"/>
<rect x="303" y="544" width="1" height="22" fill="#c0c0c0"/>
<rect x="311" y="544" width="1" height="22" fill="#c0c0c0"/>
<rect x="319" y="544" width="1" height="22" fill="#c0c0c0"/>
<rect x="327" y="549" width="1" height="17" fill="#c0c0c0"/>
<rect x="335" y="551" width="1" height="15" fill="#c0c0c0"/>
<rect x="343" y="552" width="1" height="14" fill="#c0c0c0"/>
<rect x="351" y="554" width="1" height="12" fill="#c0c0c0"/>
<rect x="359" y="555" width="1" height="11" fill="#c0c0c0"/>
<rect x="367" y="555" width="1" height="11" fill="#c0c0c0"/>
<rect x="375" y="556" width="1" height="10" fill="#c0c0c0"/>
<rect x="383" y="556" width="1" height="10" fill="#c0c0c0"/>
<rect x="391" y="555" width="1" height="11" fill="#c0c0c0"/>
<rect x="399" y="556" width="1" height="10" fill="#c0c0c0"/>
<rect x="407" y="558" width="1" height="8" fill="#c0c0c0"/>
<rect x="415" y="560" width="1" height="6" fill="#c0c0c0"/>
<rect x="423" y="562" width="1" height="4" fill="#c0c0c0"/>
<rect x="431" y="563" width="1" height="3" fill="#c0c0c0"/>
<rect x="439" y="564" width="1" height="2" fill="#c0c0c0"/>
<rect x="447" y="565" width="1" height="1" fill="#c0c0c0"/>
<rect x="455" y="565" width="1" height="3" fill="#c0c0c0"/>
<rect x="463" y="565" width="1" height="6" fill="#c0c0c0"/>
<rect x="471" y="565" width="1" height="7" fill="#c0c0c0"/>
<rect x="479" y="565" width="1" height="9" fill="#c0c0c0"/>
<rect x="487" y="565" width="1" height="9" fill="#c0c0c0"/>
<rect x="495" y="565" width="1" height="9" fill="#c0c0c0"/>
<rect x="503" y="565" width="1" height="9" fill="#c0c0c0"/>
<rect x="511" y="565" width="1" height="7" fill="#c0c0c0"/>
<rect x="519" y="565" width="1" height="4" fill="#c0c0c0"/>
<rect x="535" y="563" width="1" height="3" fill="#c0c0c0"/>
<rect x="543" y="560" width="1" height="6" fill="#c0c0c0"/>
<rect x="551" y="558" width="1" height="8" fill="#c0c0c0"/>
<rect x="559" y="557" width="1" height="9" fill="#c0c0c0"/>
<rect x="567" y="555" width="1" height="11" fill="#c0c0c0"/>
<rect x="575" y="554" width="1" height="12" fill="#c0c0c0"/>
<rect x="583" y="552" width="1" height="14" fill="#c0c0c0"/>
<rect x="591" y="551" width="1" height="15" fill="#c0c0c0"/>
<rect x="599" y="551" width="1" height="15" fill="#c0c0c0"/>
<rect x="607" y="549" width="1" height="17" fill="#c0c0c0"/>
<rect x="615" y="551" width="1" height="15" fill="#c0c0c0"/>
<rect x="623" y="555" width="1" height="11" fill="#c0c0c0"/>
<rect x="631" y="557" width="1" height="9" fill="#c0c0c0"/>
<rect x="639" y="557" width="1" height="9" fill="#c0c0c0"/>
<rect x="647" y="554" width="1" height="12" fill="#c0c0c0"/>
<rect x="655" y="550" width="1" height="16" fill="#c0c0c0"/>
<rect x="663" y="544" width="1" height="22" fill="#c0c0c0"/>
<rect x="671" y="540" width="1" height="26" fill="#c0c0c0"/>
<rect x="679" y="538" width="1" height="28" fill="#c0c0c0"/>
<rect x="687" y="536" width="1" height="30" fill="#c0c0c0"/>
<rect x="695" y="536" width="1" height="30" fill="#c0c0c0"/>
<rect x="703" y="536" width="1" height="30" fill="#c0c0c0"/>
<rect x="711" y="538" width="1" height="28" fill="#c0c0c0"/>
<rect x="719" y="539" width="1" height="27" fill="#c0c0c0"/>
<rect x="727" y="537" width="1" height="29" fill="#c0c0c0"/>
<rect x="735" y="537" width="1" height="29" fill="#c0c0c0"/>
<rect x="743" y="537" width="1" height="29" fill="#c0c0c0"/>
<rect x="751" y="536" width="1" height="30" fill="#c0c0c0"/>
<rect x="759" y="534" width="1" height="32" fill="#c0c0c0"/>
<rect x="767" y="532" width="1" height="34" fill="#c0c0c0"/>
<rect x="775" y="530" width="1" height="36" fill="#c0c0c0"/>
<rect x="783" y="528" width="1" height="38" fill="#c0c0c0"/>
<rect x="791" y="526" width="1" height="40" fill="#c0c0c0"/>
<rect x="799" y="523" width="1" height="43" fill="#c0c0c0"/>
<rect x="807" y="525" width="1" height="41" fill="#c0c0c0"/>
<rect x="815" y="528" width="1" height="38" fill="#c0c0c0"/>
<rect x="823" y="530" width="1" height="36" fill="#c0c0c0"/>
<rect x="831" y="533" width="1" height="33" fill="#c0c0c0"/>
<rect x="839" y="534" width="1" height="32" fill="#c0c0c0"/>
<rect x="847" y="534" width="1" height="32" fill="#c0c0c0"/>
<rect x="855" y="532" width="1" height="34" fill="#c0c0c0"/>
<rect x="863" y="532" width="1" height="34" fill="#c0c0c0"/>
<rect x="871" y="530" width="1" height="36" fill="#c0c0c0"/>
<rect x="879" y="530" width="1" height="36" fill="#c0c0c0"/>
<rect x="887" y="529" width="1" height="37" fill="#c0c0c0"/>
<rect x="895" y="530" width="1" height="36" fill="#c0c0c0"/>
<rect x="903" y="530" width="1" height="36" fill="#c0c0c0"/>
<rect x="911" y="530" width="1" height="36" fill="#c0c0c0"/>
<rect x="919" y="532" width="1" height="34" fill="#c0c0c0"/>
<rect x="927" y="532" width="1" height="34" fill="#c0c0c0"/>
<rect x="935" y="531" width="1" height="35" fill="#c0c0c0"/>
<rect x="943" y="532" width="1" height="34" fill="#c0c0c0"/>
<rect x="951" y="533" width="1" height="33" fill="#c0c0c0"/>
<rect x="959" y="534" width="1" height="32" fill="#c0c0c0"/>
<rect x="967" y="535" width="1" height="31" fill="#c0c0c0"/>
<rect x="975" y="536" width="1" height="30" fill="#c0c0c0"/>
<rect x="983" y="536" width="1" height="30" fill="#c0c0c0"/>
<rect x="991" y="535" width="1" height="31" fill="#c0c0c0"/>
<rect x="999" y="535" width="1" height="31" fill="#c0c0c0"/>
<rect x="1007" y="537" width="1" height="29" fill="#c0c0c0"/>
<rect x="1015" y="537" width="1" height="29" fill="#c0c0c0"/>
<rect x="1023" y="537" width="1" height="29" fill="#c0c0c0"/>
<rect x="1031" y="535" width="1" height="31" fill="#c0c0c0"/>
<rect x="1039" y="536" width="1" height="30" fill="#c0c0c0"/>
<rect x="1047" y="536" width="1" height="30" fill="#c0c0c0"/>
<rect x="1055" y="534" width="1" height="32" fill="#c0c0c0"/>
<rect x="1063" y="532" width="1" height="34" fill="#c0c0c0"/>
<rect x="1071" y="530" width="1" height="36" fill="#c0c0c0"/>
<rect x="1079" y="530" width="1" height="36" fill="#c0c0c0"/>
<rect x="1087" y="531" width="1" height="35" fill="#c0c0c0"/>
<rect x="1095" y="538" width="1" height="28" fill="#c0c0c0"/>
<rect x="1103" y="542" width="1" height="24" fill="#c0c0c0"/>
<rect x="1111" y="546" width="1" height="20" fill="#c0c0c0"/>
<rect x="1119" y="548" width="1" height="18" fill="#c0c0c0"/>
<rect x="1127" y="548" width="1" height="18" fill="#c0c0c0"/>
<rect x="1135" y="547" width="1" height="19" fill="#c0c0c0"/>
<rect x="1143" y="548" width="1" height="18" fill="#c0c0c0"/>
<rect x="1151" y="550" width="1" height="16" fill="#c0c0c0"/>
<rect x="1159" y="551" width="1" height="15" fill="#c0c0c0"/>
<rect x="1167" y="554" width="1" height="12" fill="#c0c0c0"/>
<rect x="1175" y="558" width="1" height="8" fill="#c0c0c0"/>
<rect x="1183" y="561" width="1" height="5" fill="#c0c0c0"/>
<rect x="1191" y="563" width="1" height="3" fill="#c0c0c0"/>
<rect x="1199" y="564" width="1" height="2" fill="#c0c0c0"/>
<rect x="1207" y="565" width="1" height="1" fill="#c0c0c0"/>
<rect x="1223" y="565" width="1" height="1" fill="#c0c0c0"/>
<rect x="1231" y="565" width="1" height="3" fill="#c0c0c0"/>
<rect x="1239" y="565" width="1" height="1" fill="#c0c0c0"/>
<rect x="1247" y="564" width="1" height="2" fill="#c0c0c0"/>
<rect x="1255" y="560" width="1" height="6" fill="#c0c0c0"/>
<rect x="1263" y="557" width="1" height="9" fill="#c0c0c0"/>
<rect x="1271" y="556" width="1" height="10" fill="#c0c0c0"/>
</g>
<g shape-rendering="crispEdges">
<polyline points="7.5,561.6 23.6,560.8 39.5,558.2 55.6,555.3 71.5,551 79.6,547.4 87.4,545.1 103.5,540.6 119.4,538.6 127.5,537.2 143.6,537.2 159.5,539 167.6,540.6 183.5,541.1 191.6,542.5 207.5,543.1 215.5,544.5 231.6,544.1 247.5,542.1 263.7,540.6 271.5,539.2 287.6,538.6 303.5,539.2 319.6,540.2 327.5,542.1 335.5,543.5 343.6,545.5 359.5,547.4 375.6,550.4 391.5,552.9 407.4,554.3 423.5,556.3 431.6,557.7 447.5,559.6 463.6,562.2 471.5,564.7 479.5,566.1 487.6,568.7 503.5,570.6 511.6,572.4 527.5,572.4 535.5,571 543.6,569 551.6,568.1 559.5,565.1 567.5,563.2 575.6,561.2 583.7,558.2 591.5,556.3 599.6,554.9 607.6,553.3 615.7,552.3 631.6,552.3 655.5,552.3 663.6,551.4 671.4,550.4 679.5,549 687.5,547 695.6,545.1 703.5,542.1 711.5,540.2 719.6,539.2 727.4,537.6 743.5,536.2 759.4,536.2 767.5,536.2 775.6,535.3 783.6,534.1 791.5,531.3 799.5,530.1 807.6,529.2 815.4,528.2 823.5,527.4 831.6,527.4 839.6,528.4 855.5,529.2 871.6,530.1 879.5,531.1 895.6,531.1 903.7,530.3 954.3,530.3 959.6,531.3 975.5,532.3 983.6,533.7 999.5,533.7 1007.5,534.7 1023.5,535.3 1063.5,535.3 1071.6,534.3 1079.4,533.3 1103.6,533.3 1111.5,535.3 1119.5,536.2 1127.6,537.6 1135.4,539.6 1143.5,541.5 1151.6,542.5 1159.6,545.5 1167.5,547.4 1175.5,548.4 1183.6,551.4 1191.6,552.3 1199.5,553.7 1207.5,556.3 1215.6,558.2 1223.7,559.6 1231.5,562.6 1239.6,563.5 1247.6,564.5 1255.7,564.1 1263.5,563.2 1271.6,562.6" fill="none" stroke="#ff0000" stroke-width="1" stroke-dasharray="3 3"/>
<line x1="8" y1="618.5" x2="1615" y2="618.5" stroke="#c0c0c0" stroke-width="1" stroke-dasharray="3 3"/>
<line x1="8" y1="668.5" x2="1615" y2="668.5" stroke="#c0c0c0" stroke-width="1" stroke-dasharray="3 3"/>
<polyline points="7.5,637.5 15.5,625.5 23.5,631 31.5,626.5 39.5,630.5 47.5,630.5 55.5,624.6 63.5,622.6 71.5,619.3 79.5,622.6 87.5,623.6 95.5,622.6 103.5,631 111.5,634.6 119.5,629.5 127.5,629.5 135.5,631.4 143.5,628.5 151.5,626.1 159.5,638.5 167.5,635 175.5,626.5 183.5,637.5 191.5,636.3 199.5,632.4 207.5,631 215.5,629.5 223.5,623.6 231.5,617.3 239.5,619.3 247.5,620.2 255.5,624.6 263.5,629.5 271.5,630.5 279.5,637.5 287.5,634.4 295.5,631.4 303.5,628.5 311.5,628.5 319.5,639.5 327.5,642.3 335.5,640.3 343.5,636.3 351.5,643.2 359.5,638.3 367.5,634.4 375.5,637.3 383.5,635.4 391.5,639.3 399.5,635.4 407.5,647.5 415.5,646.2 423.5,647.5 431.5,645.6 439.5,646.6 447.5,655.4 455.5,657 463.5,661.5 471.5,652.5 479.5,655.4 487.5,653 495.5,650.1 503.5,646.2 511.5,638.3 519.5,631.4 527.5,630.1 535.5,625.1 543.5,627.5 551.5,624.6 559.5,633.4 567.5,628.5 575.5,627.5 583.5,624.6 591.5,627.5 599.5,633.4 607.5,620.2 615.5,646.6 623.5,646.6 631.5,645.2 639.5,636.3 647.5,626.5 655.5,625.1 663.5,618.3 671.5,620.6 679.5,623.6 687.5,622.6 695.5,625.5 703.5,628.5 711.5,637.3 719.5,630.5 727.5,624.2 735.5,627.1 743.5,631 751.5,624.2 759.5,620.2 767.5,625.1 775.5,620.6 783.5,619.3 791.5,619.3 799.5,614.3 807.5,636.9 815.5,633.4 823.5,633.4 831.5,638.3 839.5,631.4 847.5,627.5 855.5,626.1 863.5,629.5 871.5,625.5 879.5,622.6 887.5,627.5 895.5,627.5 903.5,626.1 911.5,625.1 919.5,631 927.5,626.5 935.5,623.6 943.5,630.5 951.5,628.5 959.5,627.5 967.5,630.5 975.5,628.5 983.5,623.6 991.5,622.2 999.5,624.2 1007.5,635.4 1015.5,628.5 1023.5,625.5 1031.5,622.2 1039.5,629.5 1047.5,625.1 1055.5,620.2 1063.5,618.3 1071.5,618.3 1079.5,619.6 1087.5,629.5 1095.5,645.6 1103.5,644.2 1111.5,644.2 1119.5,636 1127.5,632 1135.5,633.4 1143.5,637.3 1151.5,638.3 1159.5,638.3 1167.5,648.1 1175.5,650.5 1183.5,649.1 1191.5,645.2 1199.5,645.2 1207.5,645.2 1215.5,649.1 1223.5,651.5 1231.5,653.4 1239.5,633.4 1247.5,630.1 1255.5,628.5 1263.5,628.5 1271.5,629.5" fill="none" stroke="#1e90ff" stroke-width="1" />
</g>
<g shape-rendering="crispEdges">
<rect x="6" y="34" width="1610" height="1" fill="#000"/>
<rect x="6" y="34" width="1" height="483" fill="#000"/>
<rect x="1615" y="34" width="1" height="483" fill="#000"/>
<rect x="6" y="518" width="1" height="61" fill="#000"/>
<rect x="1615" y="518" width="1" height="61" fill="#000"/>
<rect x="6" y="580" width="1" height="126" fill="#000"/>
<rect x="1615" y="580" width="1" height="126" fill="#000"/>
<rect x="6" y="516" width="1610" height="1" fill="#000"/>
<rect x="6" y="518" width="1610" height="1" fill="#000"/>
<rect x="6" y="578" width="1610" height="1" fill="#000"/>
<rect x="6" y="580" width="1610" height="1" fill="#000"/>
<rect x="6" y="705" width="1610" height="1" fill="#000"/>
<rect x="1616" y="56" width="2" height="1" fill="#000"/>
<rect x="1616" y="105" width="2" height="1" fill="#000"/>
<rect x="1616" y="154" width="2" height="1" fill="#000"/>
<rect x="1616" y="203" width="2" height="1" fill="#000"/>
<rect x="1616" y="252" width="2" height="1" fill="#000"/>
<rect x="1616" y="301" width="2" height="1" fill="#000"/>
<rect x="1616" y="350" width="2" height="1" fill="#000"/>
<rect x="1616" y="399" width="2" height="1" fill="#000"/>
<rect x="1616" y="448" width="2" height="1" fill="#000"/>
<rect x="1616" y="497" width="2" height="1" fill="#000"/>
<rect x="1616" y="520" width="1" height="1" fill="#000"/>
<rect x="1616" y="565" width="1" height="1" fill="#000"/>
<rect x="1616" y="577" width="1" height="1" fill="#000"/>
<rect x="1616" y="582" width="1" height="1" fill="#000"/>
<rect x="1616" y="704" width="1" height="1" fill="#000"/>
<rect x="7" y="706" width="1" height="3" fill="#000"/>
<rect x="103" y="706" width="1" height="3" fill="#000"/>
<rect x="199" y="706" width="1" height="3" fill="#000"/>
<rect x="295" y="706" width="1" height="3" fill="#000"/>
<rect x="391" y="706" width="1" height="3" fill="#000"/>
<rect x="487" y="706" width="1" height="3" fill="#000"/>
<rect x="583" y="706" width="1" height="3" fill="#000"/>
<rect x="679" y="706" width="1" height="3" fill="#000"/>
<rect x="775" y="706" width="1" height="3" fill="#000"/>
<rect x="871" y="706" width="1" height="3" fill="#000"/>
<rect x="967" y="706" width="1" height="3" fill="#000"/>
<rect x="1063" y="706" width="1" height="3" fill="#000"/>
<rect x="1159" y="706" width="1" height="3" fill="#000"/>
<rect x="1255" y="706" width="1" height="3" fill="#000"/>
<rect x="1617" y="38" width="56" height="14" fill="#ff0000"/>
<rect x="1617" y="86" width="56" height="14" fill="#000000"/>
<rect x="1617" y="149" width="56" height="14" fill="#00ff7f"/>
<rect x="1617" y="243" width="56" height="14" fill="#0000ff"/>
<rect x="1617" y="330" width="56" height="14" fill="#0000ff"/>
<polygon points="1285.5,35 1297.5,35 1291.5,41" fill="#b8b8b8" shape-rendering="auto"/>
<polygon points="9.9,47.2 19,47.2 14.45,42.2" fill="#000" shape-rendering="auto"/>
</g>
<text x="1622" y="61" class="ax">1298.70</text>
<text x="1622" y="110" class="ax">1290.30</text>
<text x="1622" y="208" class="ax">1273.35</text>
<text x="1622" y="306" class="ax">1256.25</text>
<text x="1622" y="355" class="ax">1247.85</text>
<text x="1622" y="404" class="ax">1239.30</text>
<text x="1622" y="453" class="ax">1230.90</text>
<text x="1622" y="502" class="ax">1222.35</text>
<text x="1622" y="50" class="ax" fill="#fff" style="fill:#fff">1300.79</text>
<text x="1622" y="98" class="ax" style="fill:#fff">1292.39</text>
<text x="1622" y="161" class="ax" style="fill:#fff">1281.61</text>
<text x="1622" y="255" class="ax" style="fill:#fff">1265.41</text>
<text x="1622" y="342" class="ax" style="fill:#fff">1250.32</text>
<text x="1618.5" y="532" class="ax">6.524</text>
<text x="1618.5" y="570" class="ax">0.00</text>
<text x="1619" y="575" class="ax">-1.793</text>
<text x="1618.5" y="594" class="ax">100</text>
<text x="1617.3" y="623" class="ax">70</text>
<text x="1617.3" y="673" class="ax">30</text>
<text x="1618.5" y="702" class="ax">0</text>
<text x="5.8" y="721" class="ax">3 Dec 2018</text>
<text x="101.8" y="721" class="ax">5 Dec 00:00</text>
<text x="197.8" y="721" class="ax">7 Dec 00:00</text>
<text x="293.8" y="721" class="ax">11 Dec 00:00</text>
<text x="389.8" y="721" class="ax">13 Dec 00:00</text>
<text x="485.8" y="721" class="ax">17 Dec 00:00</text>
<text x="581.8" y="721" class="ax">19 Dec 00:00</text>
<text x="677.8" y="721" class="ax">21 Dec 00:00</text>
<text x="773.8" y="721" class="ax">26 Dec 00:00</text>
<text x="869.8" y="721" class="ax">28 Dec 00:00</text>
<text x="965.8" y="721" class="ax">1 Jan 23:00</text>
<text x="1061.8" y="721" class="ax">3 Jan 20:00</text>
<text x="1157.8" y="721" class="ax">7 Jan 20:00</text>
<text x="1253.8" y="721" class="ax">9 Jan 20:00</text>
<text x="10.9" y="534" class="ax" textLength="85.6" lengthAdjust="spacingAndGlyphs">MACD(12,26,9)</text>
<text x="99.8" y="534" class="ax" textLength="31.7" lengthAdjust="spacingAndGlyphs">1.503</text>
<text x="136" y="534" class="ax" textLength="32.5" lengthAdjust="spacingAndGlyphs">0.362</text>
<text x="10.5" y="596" class="ax" textLength="43" lengthAdjust="spacingAndGlyphs">RSI(14)</text>
<text x="56.5" y="596" class="ax" textLength="46.6" lengthAdjust="spacingAndGlyphs">61.3218</text>
<text x="159.1" y="19" class="tf" textLength="18.1" lengthAdjust="spacingAndGlyphs">M1</text>
<text x="193.4" y="19" class="tf" textLength="17.8" lengthAdjust="spacingAndGlyphs">M5</text>
<text x="224.79999999999998" y="19" class="tf" textLength="24.3" lengthAdjust="spacingAndGlyphs">M15</text>
<text x="258.6" y="19" class="tf" textLength="24.6" lengthAdjust="spacingAndGlyphs">M30</text>
<text x="296.6" y="19" class="tf" textLength="16.4" lengthAdjust="spacingAndGlyphs">H1</text>
<text x="329.3" y="19" class="tf" textLength="17.4" lengthAdjust="spacingAndGlyphs">H4</text>
<text x="364.70000000000005" y="19" class="tf" textLength="16.3" lengthAdjust="spacingAndGlyphs">D1</text>
<text x="397.90000000000003" y="19" class="tf" textLength="19.6" lengthAdjust="spacingAndGlyphs">W1</text>
<text x="430.1" y="19" class="tf" textLength="20.3" lengthAdjust="spacingAndGlyphs">MN</text>
<text x="1204.7" y="226" class="cj" style="font-size:33.7px;fill:#ff2a14">多空转折点1280</text>
<g shape-rendering="crispEdges">
<rect x="9" y="57" width="286" height="76" fill="#ffffff"/>
<rect x="10" y="57" width="68" height="28" fill="url(#gb1)"/>
<rect x="225" y="57" width="68" height="28" fill="url(#gb1)"/>
<rect x="10" y="84" width="141" height="49" fill="url(#gb2)"/>
<rect x="153" y="84" width="140" height="49" fill="url(#gb2)"/>
<rect x="14" y="84" width="60" height="1" fill="#8c8cf0"/>
<rect x="229" y="84" width="60" height="1" fill="#8c8cf0"/>
<rect x="78" y="57" width="147" height="27" fill="#ffffff"/>
<rect x="80" y="57" width="143" height="25" fill="#aeaeae"/>
<rect x="81" y="58" width="141" height="23" fill="#ffffff"/>
<rect x="81" y="58" width="23" height="23" fill="#ececec"/>
<rect x="82" y="59" width="21" height="21" fill="url(#gsp)"/>
<rect x="104" y="58" width="1" height="23" fill="#aeaeae"/>
<rect x="199" y="58" width="23" height="23" fill="#ececec"/>
<rect x="200" y="59" width="21" height="21" fill="url(#gsp)"/>
<rect x="198" y="58" width="1" height="23" fill="#aeaeae"/>
<polygon points="89,68 96.4,68 92.7,72.2" fill="#4a62b4" shape-rendering="auto"/>
<polygon points="206.6,71.3 214,71.3 210.3,66.9" fill="#4a62b4" shape-rendering="auto"/>
</g>
<text x="26.9" y="76" textLength="33.8" lengthAdjust="spacingAndGlyphs" style="font-size:15px;fill:#fff">SELL</text>
<text x="243.6" y="76" textLength="29.6" lengthAdjust="spacingAndGlyphs" style="font-size:15px;fill:#fff">BUY</text>
<text x="163.9" y="75.2" textLength="30.6" lengthAdjust="spacingAndGlyphs" style="font-size:15.3px;fill:#000">1.00</text>
<text x="40.3" y="121.5" textLength="35.8" lengthAdjust="spacingAndGlyphs" style="font-size:14px;font-weight:bold;fill:#fff">1292</text>
<text x="80.5" y="121.3" textLength="43.4" lengthAdjust="spacingAndGlyphs" style="font-size:39.6px;fill:#fff">38</text>
<text x="182.2" y="121.5" textLength="35.8" lengthAdjust="spacingAndGlyphs" style="font-size:14px;font-weight:bold;fill:#fff">1292</text>
<text x="223.1" y="121.3" textLength="43.5" lengthAdjust="spacingAndGlyphs" style="font-size:39.6px;fill:#fff">81</text>
<g fill="#5c5c5c">
<rect x="2.65" y="4.95" width="1.3" height="2.2"/>
<rect x="5.20" y="4.95" width="1.3" height="2.2"/>
<rect x="7.75" y="4.95" width="1.3" height="2.2"/>
<rect x="10.30" y="4.95" width="1.3" height="2.2"/>
<rect x="12.85" y="4.95" width="1.3" height="2.2"/>
<rect x="15.40" y="4.95" width="1.3" height="2.2"/>
<rect x="17.95" y="4.95" width="1.3" height="2.2"/>
<rect x="2.65" y="8.70" width="1.3" height="2.2"/>
<rect x="5.20" y="8.70" width="1.3" height="2.2"/>
<rect x="7.75" y="8.70" width="1.3" height="2.2"/>
<rect x="10.30" y="8.70" width="1.3" height="2.2"/>
<rect x="12.85" y="8.70" width="1.3" height="2.2"/>
<rect x="15.40" y="8.70" width="1.3" height="2.2"/>
<rect x="17.95" y="8.70" width="1.3" height="2.2"/>
<rect x="2.65" y="13.80" width="1.3" height="2.2"/>
<rect x="5.20" y="13.80" width="1.3" height="2.2"/>
<rect x="7.75" y="13.80" width="1.3" height="2.2"/>
<rect x="10.30" y="13.80" width="1.3" height="2.2"/>
<rect x="12.85" y="13.80" width="1.3" height="2.2"/>
<rect x="15.40" y="13.80" width="1.3" height="2.2"/>
<rect x="17.95" y="13.80" width="1.3" height="2.2"/>
<rect x="2.65" y="18.90" width="1.3" height="2.2"/>
<rect x="5.20" y="18.90" width="1.3" height="2.2"/>
<rect x="7.75" y="18.90" width="1.3" height="2.2"/>
<rect x="10.30" y="18.90" width="1.3" height="2.2"/>
<rect x="12.85" y="18.90" width="1.3" height="2.2"/>
</g>
<text x="14.6" y="25.7" style="font-size:9.4px;font-weight:bold;font-style:italic;fill:#5a5a5a" textLength="5.6" lengthAdjust="spacingAndGlyphs">F</text>
<text x="40.1" y="20.6" style="font-size:16px;font-weight:bold;fill:#686868" textLength="10.2" lengthAdjust="spacingAndGlyphs">A</text>
<g fill="#505050">
<rect x="76.00" y="6.6" width="1.2" height="1.1"/>
<rect x="78.50" y="6.6" width="1.2" height="1.1"/>
<rect x="81.00" y="6.6" width="1.2" height="1.1"/>
<rect x="83.50" y="6.6" width="1.2" height="1.1"/>
<rect x="86.00" y="6.6" width="1.2" height="1.1"/>
<rect x="72.00" y="22" width="1.2" height="1.1"/>
<rect x="74.50" y="22" width="1.2" height="1.1"/>
<rect x="77.00" y="22" width="1.2" height="1.1"/>
<rect x="79.50" y="22" width="1.2" height="1.1"/>
<rect x="82.00" y="22" width="1.2" height="1.1"/>
<rect x="84.50" y="22" width="1.2" height="1.1"/>
<rect x="72" y="9.20" width="1.1" height="1.2"/>
<rect x="86" y="9.20" width="1.1" height="1.2"/>
<rect x="72" y="11.70" width="1.1" height="1.2"/>
<rect x="86" y="11.70" width="1.1" height="1.2"/>
<rect x="72" y="14.20" width="1.1" height="1.2"/>
<rect x="86" y="14.20" width="1.1" height="1.2"/>
<rect x="72" y="16.70" width="1.1" height="1.2"/>
<rect x="86" y="16.70" width="1.1" height="1.2"/>
<rect x="72" y="19.20" width="1.1" height="1.2"/>
<rect x="86" y="19.20" width="1.1" height="1.2"/>
<rect x="72" y="21.70" width="1.1" height="1.2"/>
<rect x="86" y="21.70" width="1.1" height="1.2"/>
<rect x="71" y="5.2" width="2.6" height="2.5"/>
</g>
<text x="74.2" y="20.6" style="font-size:14.5px;font-weight:bold;fill:#747474" textLength="10.6" lengthAdjust="spacingAndGlyphs">T</text>
<path d="M109 6.4 L113.6 11.6 L111.1 11.6 L111.1 12.9 L106.9 12.9 L106.9 11.6 L104.4 11.6 Z" fill="#606060"/>
<path d="M117.85 23 L122.4 18.4 L120 18.4 L120 17.1 L115.7 17.1 L115.7 18.4 L113.3 18.4 Z" fill="#606060"/>
<polyline points="107.6,16.3 110.3,18.5 115.5,12.3" fill="none" stroke="#606060" stroke-width="1.5"/>
<polygon points="127.7,12.9 135.2,12.9 131.45,17.2" fill="#000"/>
</svg></body></html>
